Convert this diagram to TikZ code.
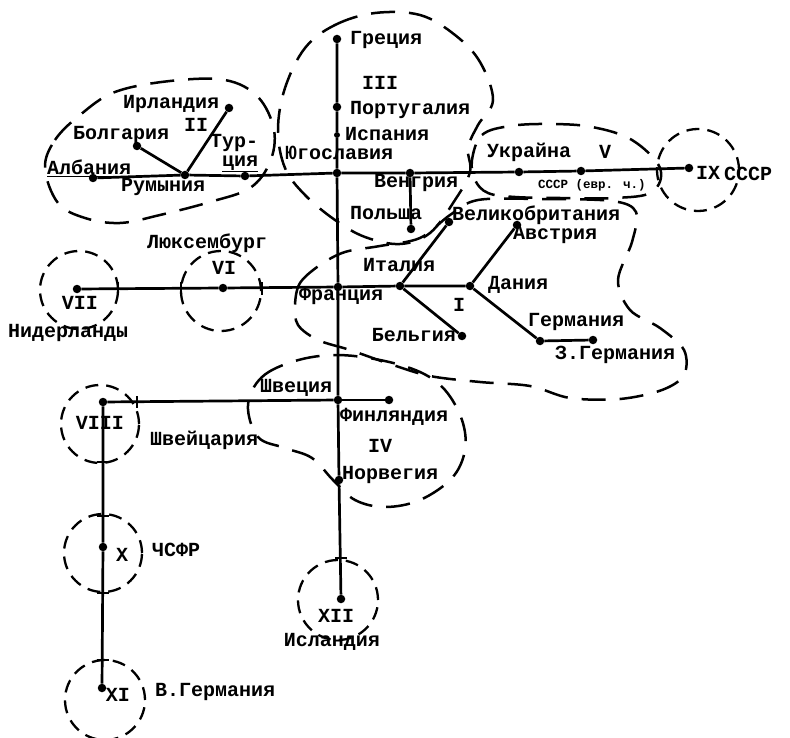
\documentclass[tikz,border=0pt]{standalone}
\usepackage{fontspec}
\setmainfont{Liberation Mono}
\begin{document}
\begin{tikzpicture}[x=1pt,y=-1pt,
  dot/.style={circle,fill=black,inner sep=0pt,minimum size=8.5pt},
  conn/.style={line width=2.7pt},
  blob/.style={line width=2.5pt,dash pattern=on 24pt off 14pt},
  ring/.style={line width=2.3pt,dash pattern=on 13pt off 8pt},
  tickmark/.style={line width=2pt},
  lbl/.style={font=\fontsize{20}{21}\selectfont\bfseries,inner sep=0pt},
  smalllbl/.style={font=\fontsize{12.5}{14}\selectfont\bfseries,inner sep=0pt}]
\useasboundingbox (0,0) rectangle (790,738);

% ---- dots ----
\node[dot] (alb) at (93,178) {};
\node[dot] (rum) at (185,175) {};
\node[dot] (bol) at (137,146) {};
\node[dot] (irl) at (229,108) {};
\node[dot] (tur) at (245,176) {};
\node[dot] (yug) at (337,173) {};
\node[dot] (gre) at (337,39) {};
\node[dot] (por) at (337,107) {};
\node[dot,minimum size=6pt] (isp) at (337,135) {};
\node[dot] (ven) at (410,173) {};
\node[dot] (pol) at (411,229) {};
\node[dot] (ukr) at (519,172) {};
\node[dot] (sssr) at (581,171) {};
\node[dot] (ix) at (689,168) {};
\node[dot] (fra) at (338,287) {};
\node[dot] (ita) at (400,286) {};
\node[dot] (vel) at (449,222) {};
\node[dot] (bel) at (462,336) {};
\node[dot] (dan) at (470,286) {};
\node[dot] (avs) at (517,225) {};
\node[dot] (ger) at (540,341) {};
\node[dot] (zger) at (593,340) {};
\node[dot] (lux) at (223,288) {};
\node[dot] (vii) at (77,289) {};
\node[dot] (shv) at (338,400) {};
\node[dot] (fin) at (389,400) {};
\node[dot] (viii) at (103,402) {};
\node[dot] (nor) at (339,480) {};
\node[dot] (isl) at (341,599) {};
\node[dot] (x) at (103,547) {};
\node[dot] (xi) at (102,688) {};

% ---- connectors ----
\draw[conn] (alb) -- (rum) -- (tur) -- (yug) -- (ven) -- (ukr) -- (sssr) -- (ix);
\draw[conn] (bol) -- (rum);
\draw[conn] (irl) -- (rum);
\draw[conn] (gre) -- (por) -- (isp) -- (yug) -- (fra) -- (shv) -- (nor) -- (isl);
\draw[conn] (ven) -- (pol);
\draw[conn] (vii) -- (lux) -- (fra) -- (ita) -- (dan);
\draw[conn] (ita) -- (vel);
\draw[conn] (ita) -- (bel);
\draw[conn] (dan) -- (avs);
\draw[conn] (dan) -- (ger) -- (zger);
\draw[conn] (shv) -- (fin);
\draw[conn] (viii) -- (shv);
\draw[conn] (viii) -- (x) -- (xi);

% ---- ticks ----
\foreach \ty in {462,516,593,660} \draw[tickmark] (97,\ty) -- (109,\ty);
\draw[tickmark] (335,558) -- (347,558);
\foreach \tx in {118,181,262} \draw[tickmark] (\tx,282) -- (\tx,295);
\draw[tickmark] (137,396) -- (137,408);

% ---- small dashed circles ----
\draw[ring] (79,290) circle[radius=39pt];
\draw[ring] (221,291) circle[radius=40pt];
\draw[ring] (698,170) circle[radius=41pt];
\draw[ring] (100,424) circle[radius=39pt];
\draw[ring] (103,553) circle[radius=39pt];
\draw[ring] (105,700) circle[radius=40pt];
\draw[ring] (338,600) circle[radius=40pt];

% ---- group outlines ----
% II
\draw[blob] plot[smooth cycle,tension=0.6] coordinates {(45,168) (55,140) (80,115) (115,92) (170,81) (225,80) (258,97) (274,130) (270,162) (250,188) (210,202) (160,215) (120,223) (85,218) (58,203)};
% III
\draw[blob] plot[smooth cycle,tension=0.6] coordinates {(305,48) (335,25) (375,13) (420,15) (455,35) (480,62) (493,100) (478,125) (468,148) (470,172) (455,200) (430,233) (400,244) (365,237) (335,220) (305,195) (285,168) (278,130) (285,88)};
% V
\draw[blob] plot[smooth cycle,tension=0.6] coordinates {(472,160) (482,135) (510,126) (550,124) (592,127) (632,140) (660,168) (652,192) (615,198) (560,198) (515,197) (488,193) (475,180)};
% I
\draw[blob] plot[smooth cycle,tension=0.55] coordinates {(295,305) (300,283) (320,265) (345,252) (380,246) (420,238) (450,215) (478,200) (540,199) (612,201) (636,212) (632,242) (618,280) (630,310) (660,328) (684,350) (684,375) (662,390) (620,399) (570,398) (530,386) (480,382) (430,376) (390,364) (350,350) (318,340) (298,325)};
% IV
\draw[blob] plot[smooth cycle,tension=0.6] coordinates {(248,405) (262,377) (295,361) (335,355) (380,360) (420,372) (445,390) (462,420) (465,450) (452,478) (420,500) (385,507) (355,500) (333,480) (312,458) (285,448) (258,437)};

% ---- labels ----
\node[lbl,anchor=west] (tGre) at (350,40) {Греция};
\node[lbl] (tIII) at (380,83) {III};
\node[lbl,anchor=west] (tPor) at (350,110) {Португалия};
\node[lbl,anchor=west] (tIsp) at (345,134) {Испания};
\node[lbl,anchor=west] (tYug) at (285,153) {Югославия};
\node[lbl,anchor=west] (tIrl) at (123,104) {Ирландия};
\node[lbl] (tII) at (196,125) {II};
\node[lbl,anchor=west] (tBol) at (73,135) {Болгария};
\node[lbl,anchor=west] (tTur1) at (210,143) {Тур-};
\node[lbl,anchor=west] (tTur2) at (222,164) {\underline{ция}};
\node[lbl,anchor=west] (tAlb) at (47,168) {\underline{Албания}};
\node[lbl,anchor=west] (tRum) at (121,187) {Румыния};
\node[lbl,anchor=west] (tVen) at (374,183) {Венгрия};
\node[lbl,anchor=west] (tPol) at (350,213) {Польша};
\node[lbl,anchor=west] (tUkr) at (487,152) {Украйна};
\node[lbl] (tV) at (605,152) {V};
\node[smalllbl,anchor=west] (tSssrE) at (538,185) {СССР (евр. ч.)};
\node[lbl] (tIX) at (708,173) {IX};
\node[lbl,anchor=west] (tSssr) at (724,174) {СССР};
\node[lbl,anchor=west] (tVel) at (452,215) {Великобритания};
\node[lbl,anchor=west] (tAvs) at (513,235) {Австрия};
\node[lbl,anchor=west] (tIta) at (363,265) {Италия};
\node[lbl,anchor=west] (tFra) at (299,296) {Франция};
\node[lbl,anchor=west] (tDan) at (488,285) {Дания};
\node[lbl] (tI) at (459,305) {I};
\node[lbl,anchor=east] (tBel) at (456,335) {Бельгия};
\node[lbl,anchor=west] (tGer) at (528,322) {Германия};
\node[lbl,anchor=west] (tZger) at (555,355) {З.Германия};
\node[lbl,anchor=west] (tLux) at (147,243) {Люксембург};
\node[lbl] (tVI) at (224,268) {VI};
\node[lbl] (tVII) at (80,303) {VII};
\node[lbl,anchor=west] (tNid) at (8,333) {Нидерланды};
\node[lbl,anchor=west] (tShv) at (260,388) {Швеция};
\node[lbl,anchor=west] (tFin) at (340,417) {Финляндия};
\node[lbl] (tIV) at (380,446) {IV};
\node[lbl,anchor=west] (tNor) at (342,475) {Норвегия};
\node[lbl,anchor=west] (tShz) at (150,440) {Швейцария};
\node[lbl] (tVIII) at (100,423) {VIII};
\node[lbl] (tX) at (122,555) {X};
\node[lbl,anchor=west] (tChs) at (152,550) {ЧСФР};
\node[lbl] (tXII) at (336,616) {XII};
\node[lbl] (tIsl) at (332,642) {Исландия};
\node[lbl] (tXI) at (118,695) {XI};
\node[lbl,anchor=west] (tVger) at (155,692) {В.Германия};
\end{tikzpicture}
\end{document}
